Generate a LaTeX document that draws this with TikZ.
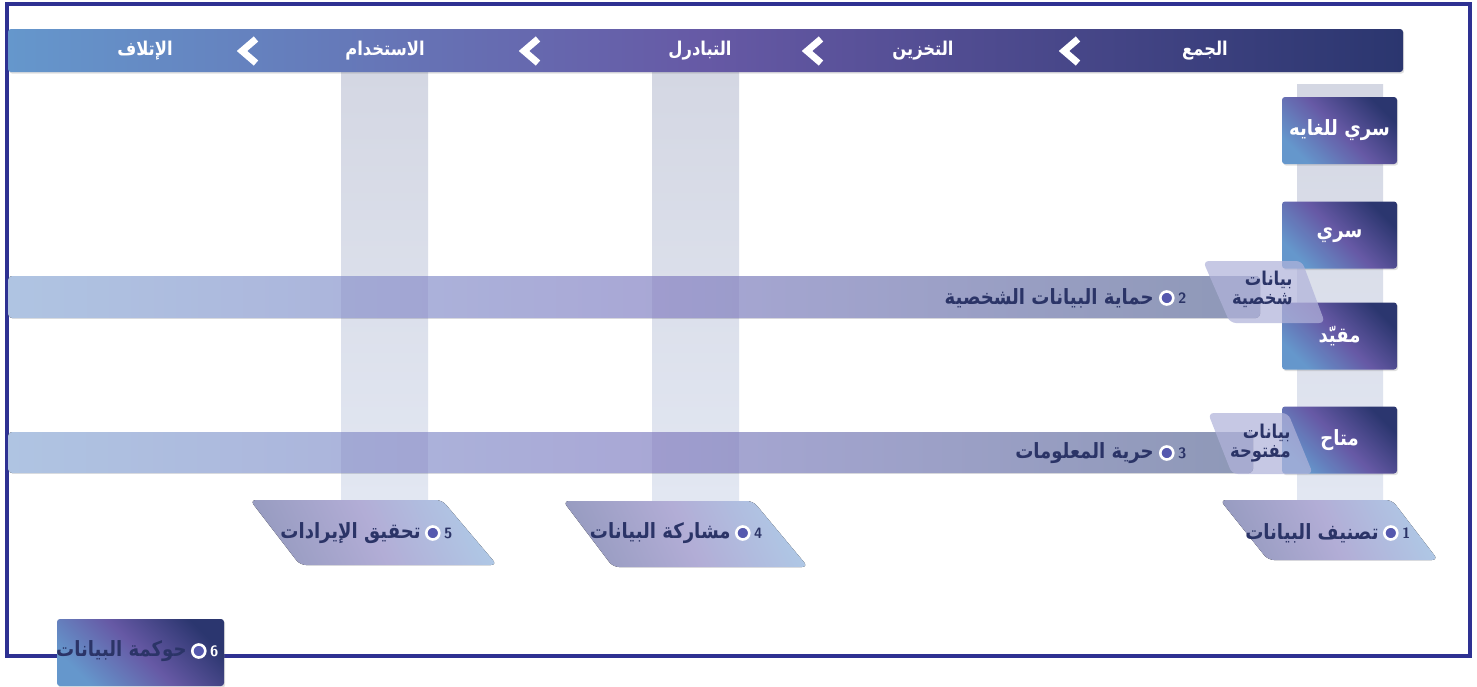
\documentclass[tikz,border=0pt]{standalone}
\usepackage{fontspec}
\newfontfamily\arabicfont[Script=Arabic,FakeStretch=0.86]{DejaVu Sans}
\TeXXeTstate=1
\usetikzlibrary{positioning,shadows}

\definecolor{framecol}{HTML}{2E3192}
\definecolor{barL}{HTML}{6597CC}
\definecolor{barM}{HTML}{6659A5}
\definecolor{barR}{HTML}{2B366F}
\definecolor{colTop}{HTML}{D4D7E3}
\definecolor{colBot}{HTML}{E2E7F2}
\definecolor{bandL}{HTML}{AFC4E2}
\definecolor{bandM}{HTML}{A9A8D6}
\definecolor{bandR}{HTML}{8E98B7}
\definecolor{tagL}{HTML}{989CC1}
\definecolor{tagM}{HTML}{B2ADD6}
\definecolor{tagR}{HTML}{AFC7E5}
\definecolor{navy}{HTML}{2B3467}
\definecolor{dotcol}{HTML}{5558AE}

\tikzset{
  headbar/.style={rectangle, rounded corners=1.5pt, minimum width=697.5pt,
    minimum height=21.5pt, left color=barL, right color=barR, middle color=barM,
    drop shadow={opacity=0.25, shadow xshift=0.6pt, shadow yshift=-0.8pt}},
  headtxt/.style={font=\arabicfont\bfseries\fontsize{9.5}{11}\selectfont, text=white, inner sep=0pt},
  chev/.style={draw=white, line width=3.4pt, miter limit=4},
  colshade/.style={top color=colTop, bottom color=colBot},
  levelbox/.style={rectangle, rounded corners=1.5pt, minimum width=57.5pt,
    minimum height=33.5pt, inner sep=1pt, left color=barL, right color=barR, middle color=barM,
    shading angle=135, text=white,
    font=\arabicfont\bfseries\fontsize{10.5}{12}\selectfont,
    drop shadow={opacity=0.25, shadow xshift=0.6pt, shadow yshift=-0.8pt}},
  band/.style={left color=bandL, right color=bandR, middle color=bandM, rounded corners=2pt},
  cross/.style={fill=barM, fill opacity=0.13},
  tag/.style={left color=tagL, right color=tagR, middle color=tagM,
    shading angle=115, rounded corners=3pt},
  datatag/.style={fill=tagM!75!tagR, fill opacity=0.72, rounded corners=3pt},
  lbl/.style={font=\arabicfont\bfseries\fontsize{10.5}{12}\selectfont, text=navy, inner sep=0pt},
  taglbl/.style={font=\arabicfont\bfseries\fontsize{9.5}{9.5}\selectfont, text=navy,
    inner sep=0pt, align=right},
  dot/.style={circle, draw=white, line width=1.3pt, fill=dotcol,
    minimum size=6.5pt, inner sep=0pt},
  num/.style={font=\sffamily\bfseries\fontsize{7.5}{8}\selectfont, text=navy, inner sep=0pt}
}

\begin{document}
\begin{tikzpicture}[x=0.5pt,y=-0.5pt]
  \useasboundingbox (0,0) rectangle (1477,686);
  \fill[white] (0,0) rectangle (1477,686);

  % frame
  \draw[framecol, line width=1.6pt] (7,4) rectangle (1470,656);

  % columns
  \fill[colshade] (341,72) rectangle (428,500);
  \fill[colshade] (652,72) rectangle (739,500);
  \fill[colshade] (1297,84) rectangle (1383,500);

  % header
  \node[headbar] (bar) at (705.5,50.5) {};
  \node[headtxt] (collect) at (1205,51) {\beginR الجمع\endR};
  \node[headtxt] (store) at (923,51) {\beginR التخزين\endR};
  \node[headtxt] (share) at (700,51) {\beginR التبادرل\endR};
  \node[headtxt] (use) at (385,51) {\beginR الاستخدام\endR};
  \node[headtxt] (destroy) at (145,51) {\beginR الإتلاف\endR};

  \draw[chev] (1078,39) -- (1064,51) -- (1078,63);
  \draw[chev] (821,39) -- (807,51) -- (821,63);
  \draw[chev] (538,39) -- (524,51) -- (538,63);
  \draw[chev] (256,39) -- (242,51) -- (256,63);

  % levels
  \node[levelbox] (topsecret) at (1339.5,130.5) {\beginR سري للغايه\endR};
  \node[levelbox] (secret) at (1339.5,235) {\beginR سري\endR};
  \node[levelbox] (restricted) at (1339.5,336) {\beginR مقيّد\endR};
  \node[levelbox] (public) at (1339.5,440) {\beginR متاح\endR};

  % bands
  \fill[band] (8,276) rectangle (1260,318);
  \fill[band] (8,432) rectangle (1253,473);
  \fill[cross] (341,276) rectangle (428,318);
  \fill[cross] (652,276) rectangle (739,318);
  \fill[cross] (341,432) rectangle (428,473);
  \fill[cross] (652,432) rectangle (739,473);
  \fill[datatag] (1203,261) -- (1302,261) -- (1325,323) -- (1230,323) -- cycle;
  \fill[datatag] (1208,413) -- (1288,413) -- (1313,474) -- (1232,474) -- cycle;
  \node[taglbl, anchor=east] (personal) at (1293,289) {\beginR بيانات\endR\\\beginR شخصية\endR};
  \node[taglbl, anchor=east] (open) at (1291,443) {\beginR بيانات\endR\\\beginR مفتوحة\endR};

  \node[lbl, anchor=east] (lbl2) at (1154,298) {\beginR حماية البيانات الشخصية\endR};
  \node[dot, right=2.5pt of lbl2] (dot2) {};
  \node[num, right=1.5pt of dot2] (num2) {2};

  \node[lbl, anchor=east] (lbl3) at (1154,453) {\beginR حرية المعلومات\endR};
  \node[dot, right=2.5pt of lbl3] (dot3) {};
  \node[num, right=1.5pt of dot3] (num3) {3};

  % steps
  \fill[tag] (1220,500) -- (1392,500) -- (1438,560) -- (1268,560) -- cycle;
  \fill[tag] (563,501) -- (753,501) -- (808,567) -- (613,567) -- cycle;
  \fill[tag] (250,500) -- (442,500) -- (497,565) -- (300,565) -- cycle;

  \node[lbl, anchor=east] (lbl1) at (1379,533) {\beginR تصنيف البيانات\endR};
  \node[dot, right=2pt of lbl1] (dot1) {};
  \node[num, right=1.5pt of dot1] (num1) {1};

  \node[lbl, anchor=east] (lbl4) at (731,533) {\beginR مشاركة البيانات\endR};
  \node[dot, right=2pt of lbl4] (dot4) {};
  \node[num, right=1.5pt of dot4] (num4) {4};

  \node[lbl, anchor=east] (lbl5) at (421,533) {\beginR تحقيق الإيرادات\endR};
  \node[dot, right=2pt of lbl5] (dot5) {};
  \node[num, right=1.5pt of dot5] (num5) {5};

  % governance
  \node[levelbox, minimum width=83.5pt] (gov) at (140.5,652.5) {};
  \node[lbl, anchor=east] (lbl6) at (187,651) {\beginR حوكمة البيانات\endR};
  \node[dot, right=2pt of lbl6] (dot6) {};
  \node[num, text=white, right=1.5pt of dot6] (num6) {6};
\end{tikzpicture}
\end{document}
